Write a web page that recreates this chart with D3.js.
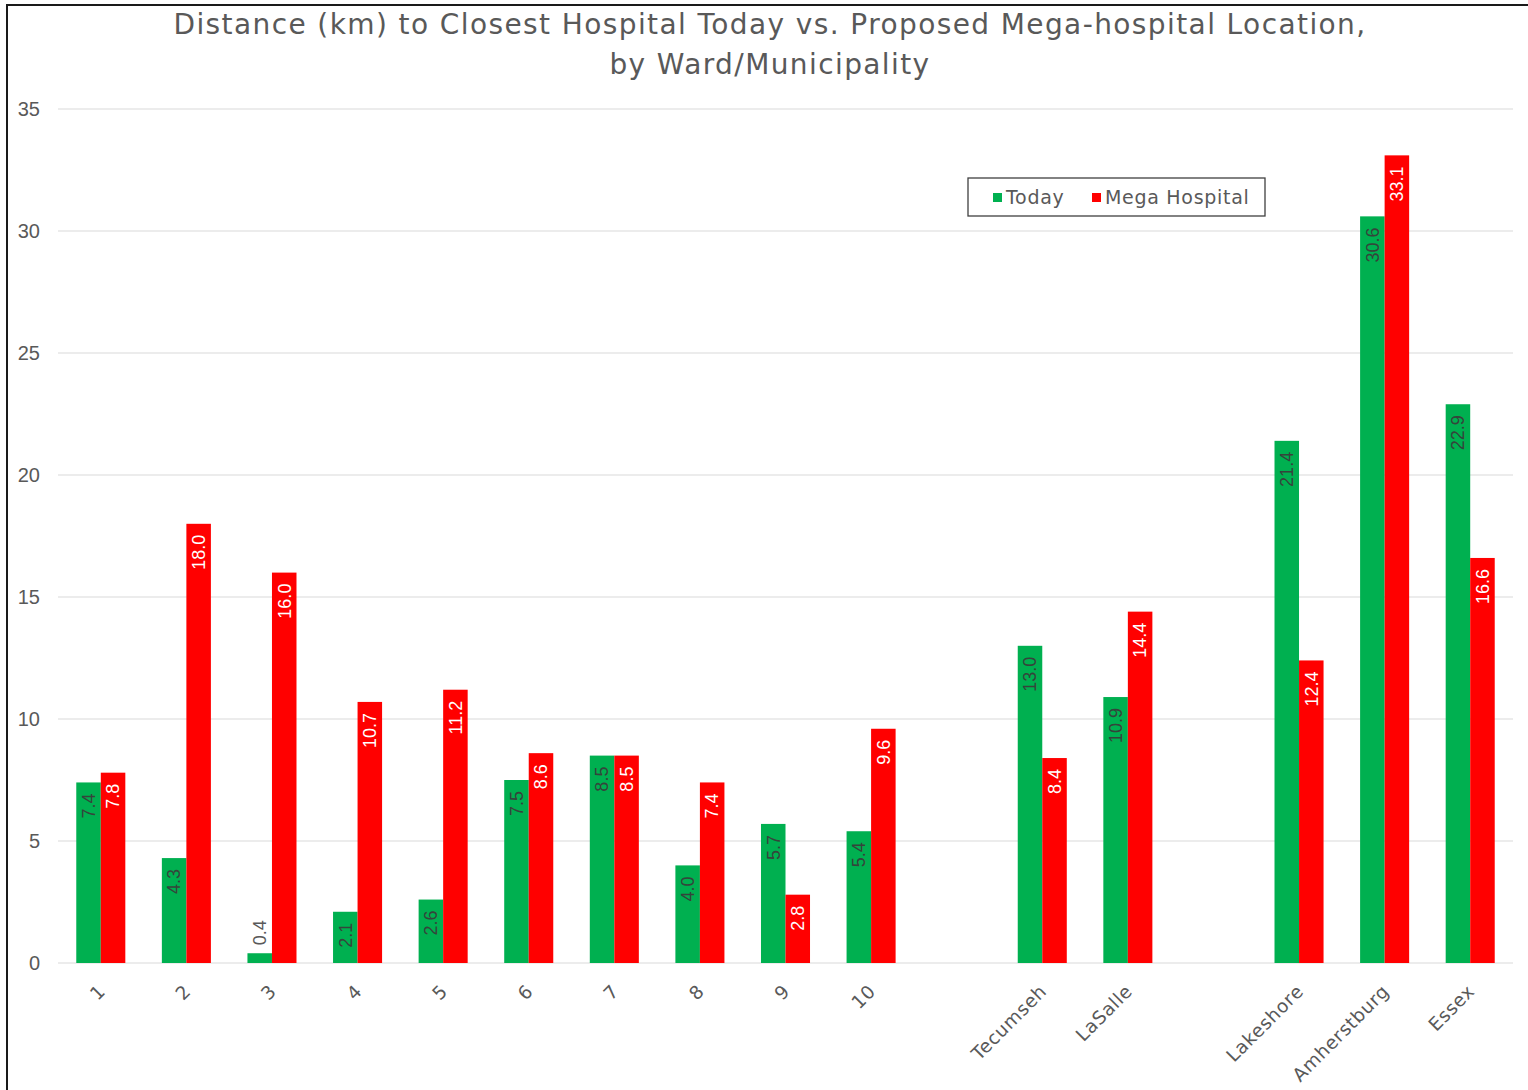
<!DOCTYPE html>
<html>
<head>
<meta charset="utf-8">
<script src="https://cdn.jsdelivr.net/npm/d3@7"></script>
<style>
  html, body { margin: 0; padding: 0; background: #fff; }
  svg { display: block; }
</style>
</head>
<body>
<svg id="chart" width="1528" height="1090"></svg>
<script>
// Wards 1-10, then Tecumseh/LaSalle, then the county municipalities; null slots leave a gap between groups
const categories = ["1", "2", "3", "4", "5", "6", "7", "8", "9", "10", null,
  "Tecumseh", "LaSalle", null, "Lakeshore", "Amherstburg", "Essex"];
const todayKm = [7.4, 4.3, 0.4, 2.1, 2.6, 7.5, 8.5, 4.0, 5.7, 5.4, null,
  13.0, 10.9, null, 21.4, 30.6, 22.9];
const megaKm = [7.8, 18.0, 16.0, 10.7, 11.2, 8.6, 8.5, 7.4, 2.8, 9.6, null,
  8.4, 14.4, null, 12.4, 33.1, 16.6];
const seriesNames = ["Today", "Mega Hospital"];
const yTicks = [0, 5, 10, 15, 20, 25, 30, 35];
const titleLines = ["Distance (km) to Closest Hospital Today vs. Proposed Mega-hospital Location,",
  "by Ward/Municipality"];

const colors = { "Today": "#00b050", "Mega Hospital": "#ff0000" };
const labelColors = { "Today": "#35443b", "Mega Hospital": "#ffffff" };
const geoFont = "'DejaVu Sans', sans-serif";
const numFont = "'Liberation Sans', Arial, sans-serif";

const svg = d3.select("#chart");
const plot = { left: 58, right: 1513, top: 109, bottom: 963 };

// Chart frame
svg.append("path")
  .attr("d", "M7,1092 L7,5 L1530,5")
  .attr("fill", "none").attr("stroke", "#1a1a1a").attr("stroke-width", 2);

const x = d3.scaleBand()
  .domain(d3.range(categories.length))
  .range([plot.left, plot.right])
  .paddingInner(0).paddingOuter(0);

const pairWidth = x.bandwidth() * 0.573;
const x1 = d3.scaleBand().domain(seriesNames).range([0, pairWidth]);

const y = d3.scaleLinear().domain([0, 35]).range([plot.bottom, plot.top]);

// Gridlines
svg.append("g").selectAll("line").data(yTicks).join("line")
  .attr("x1", plot.left).attr("x2", plot.right)
  .attr("y1", d => y(d)).attr("y2", d => y(d))
  .attr("stroke", "#d9d9d9").attr("stroke-width", 1.2);

// Y axis labels
const yAxis = d3.axisLeft(y).tickValues(yTicks).tickSize(0).tickPadding(0);
const yG = svg.append("g").attr("transform", `translate(40,0)`).call(yAxis);
yG.select(".domain").remove();
yG.selectAll("text")
  .attr("font-family", numFont).attr("font-size", 20).attr("fill", "#595959");

// Bars
const rows = categories.map((c, i) => ({ i, c, values: [todayKm[i], megaKm[i]] }))
  .filter(r => r.c !== null);

const bars = [];
rows.forEach(r => {
  seriesNames.forEach((s, k) => {
    if (r.values[k] != null) bars.push({ i: r.i, s, v: r.values[k] });
  });
});

const barX = d => x(d.i) + (x.bandwidth() - pairWidth) / 2 + x1(d.s);

svg.append("g").selectAll("rect").data(bars).join("rect")
  .attr("x", barX)
  .attr("y", d => y(d.v))
  .attr("width", x1.bandwidth())
  .attr("height", d => y(0) - y(d.v))
  .attr("fill", d => colors[d.s]);

// Rotated value labels at the inside end of each bar (outside when the bar is too short)
const labelLen = 32;
svg.append("g").selectAll("text").data(bars).join("text")
  .each(function (d) {
    const cx = barX(d) + x1.bandwidth() / 2;
    const top = y(d.v);
    const inside = (y(0) - top) > labelLen + 14;
    const ty = inside ? top + 11 : top - 8;
    d3.select(this)
      .attr("transform", `translate(${cx},${ty}) rotate(-90)`)
      .attr("text-anchor", inside ? "end" : "start")
      .attr("dy", "0.35em")
      .attr("fill", inside ? labelColors[d.s] : "#595959");
  })
  .attr("font-family", numFont).attr("font-size", 18)
  .text(d => d.v.toFixed(1));

// Category labels, rotated 45 degrees
const xG = svg.append("g");
rows.forEach(r => {
  const cx = x(r.i) + x.bandwidth() / 2;
  xG.append("text")
    .attr("transform", `translate(${cx + 1},${plot.bottom + 25}) rotate(-45)`)
    .attr("text-anchor", "end")
    .attr("dy", "0.35em")
    .attr("font-family", geoFont).attr("font-size", 18.5)
    .attr("letter-spacing", 0.6).attr("fill", "#595959")
    .text(r.c);
});

// Title
svg.append("text")
  .attr("x", 770).attr("text-anchor", "middle")
  .attr("font-family", geoFont).attr("font-size", 28).attr("letter-spacing", 1.4)
  .attr("fill", "#595959")
  .selectAll("tspan").data(titleLines).join("tspan")
  .attr("x", 770).attr("y", (d, i) => 34 + i * 40)
  .text(d => d);

// Legend
const lg = svg.append("g").attr("transform", "translate(968,178)");
lg.append("rect").attr("width", 297).attr("height", 38)
  .attr("fill", "#fff").attr("stroke", "#404040").attr("stroke-width", 1.3);
const legendItems = [{ s: "Today", x: 25 }, { s: "Mega Hospital", x: 124 }];
legendItems.forEach(it => {
  lg.append("rect").attr("x", it.x).attr("y", 15).attr("width", 9).attr("height", 9)
    .attr("fill", colors[it.s]);
  lg.append("text").attr("x", it.x + 13).attr("y", 19.5).attr("dy", "0.35em")
    .attr("font-family", geoFont).attr("font-size", 19).attr("letter-spacing", 0.7)
    .attr("fill", "#595959")
    .text(it.s);
});
</script>
</body>
</html>
